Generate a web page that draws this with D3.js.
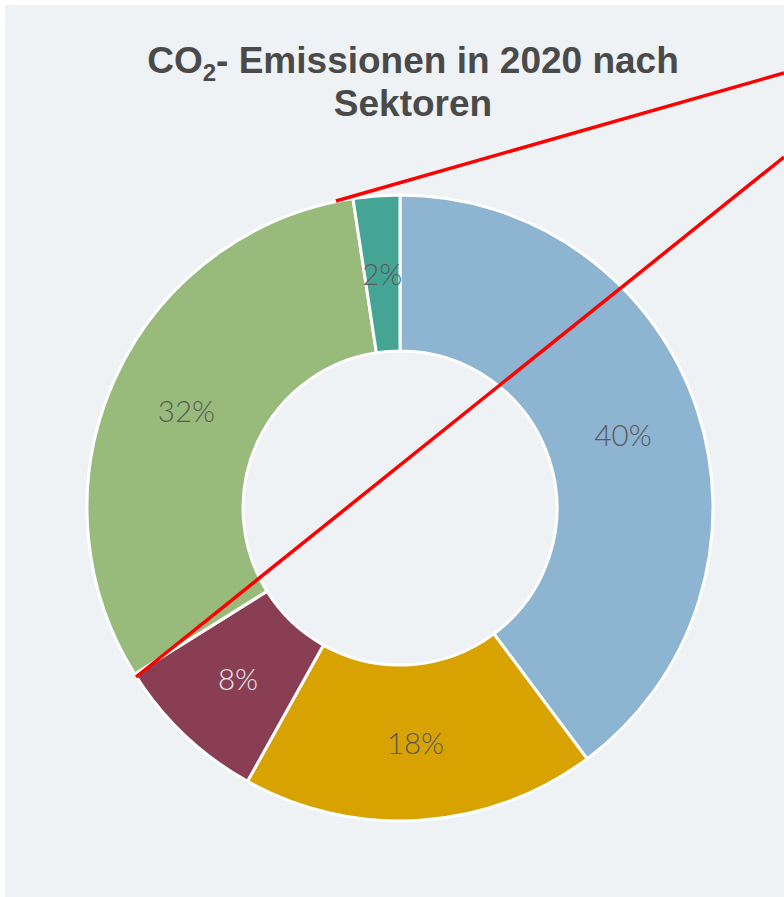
<!DOCTYPE html>
<html>
<head>
<meta charset="utf-8">
<script src="https://cdn.jsdelivr.net/npm/d3@7"></script>
<style>
  html, body { margin: 0; padding: 0; background: #fff; }
  svg { display: block; }
</style>
</head>
<body>
<svg id="canvas" width="784" height="897"></svg>
<script>
// sectors, clockwise from 12 o'clock
const sectors = ["Energie", "Industrie", "Verkehr", "Gebäude", "Sonstige"];
const shares = [39.8, 18.3, 8.0, 31.5, 2.4];
const labels = ["40%", "18%", "8%", "32%", "2%"];
const colors = ["#8db4d0", "#d8a300", "#8a3e54", "#98bb7c", "#45a595"];
const labelColors = ["#595959", "#595959", "#e8e8e8", "#595959", "#595959"];

const width = 784;
const height = 897;
const center = { x: 400, y: 508 };
const outerR = 313;
const innerR = 157;

const svg = d3.select("#canvas");

// panel background
svg.append("rect")
  .attr("x", 5)
  .attr("y", 5)
  .attr("width", width - 5)
  .attr("height", height - 5)
  .attr("fill", "#eef2f5");

// title
const title = svg.append("text")
  .attr("text-anchor", "middle")
  .attr("font-family", "'Liberation Sans', Arial, sans-serif")
  .attr("font-weight", "bold")
  .attr("font-size", 37)
  .attr("fill", "#4a4a4a");
const line1 = title.append("tspan").attr("x", 413).attr("y", 73);
line1.append("tspan").text("CO");
line1.append("tspan").attr("font-size", 24).attr("dy", 8).text("2");
line1.append("tspan").attr("dy", -8).text("- Emissionen in 2020 nach");
title.append("tspan").attr("x", 413).attr("y", 116).text("Sektoren");

// donut
const pie = d3.pie().sort(null).value(d => d)(shares);
const arc = d3.arc().innerRadius(innerR).outerRadius(outerR);

const g = svg.append("g")
  .attr("transform", `translate(${center.x},${center.y})`);

g.selectAll("path")
  .data(pie)
  .enter()
  .append("path")
  .attr("d", arc)
  .attr("fill", (d, i) => colors[i])
  .attr("stroke", "#ffffff")
  .attr("stroke-width", 3)
  .attr("stroke-linejoin", "round");

g.selectAll("text")
  .data(pie)
  .enter()
  .append("text")
  .attr("transform", d => `translate(${arc.centroid(d)})`)
  .attr("text-anchor", "middle")
  .attr("dy", "0.4em")
  .attr("font-family", "Lato, 'Open Sans', sans-serif")
  .attr("font-weight", 300)
  .attr("font-size", 29.5)
  .attr("fill", (d, i) => labelColors[i])
  .text((d, i) => labels[i]);

// red zoom lines crossing the chart
const zoomLines = [
  [[336, 201], [784, 73]],
  [[136, 677], [784, 157]]
];
svg.selectAll("line.zoom")
  .data(zoomLines)
  .enter()
  .append("line")
  .attr("class", "zoom")
  .attr("x1", d => d[0][0])
  .attr("y1", d => d[0][1])
  .attr("x2", d => d[1][0])
  .attr("y2", d => d[1][1])
  .attr("stroke", "#ff0000")
  .attr("stroke-width", 3.5);
</script>
</body>
</html>
